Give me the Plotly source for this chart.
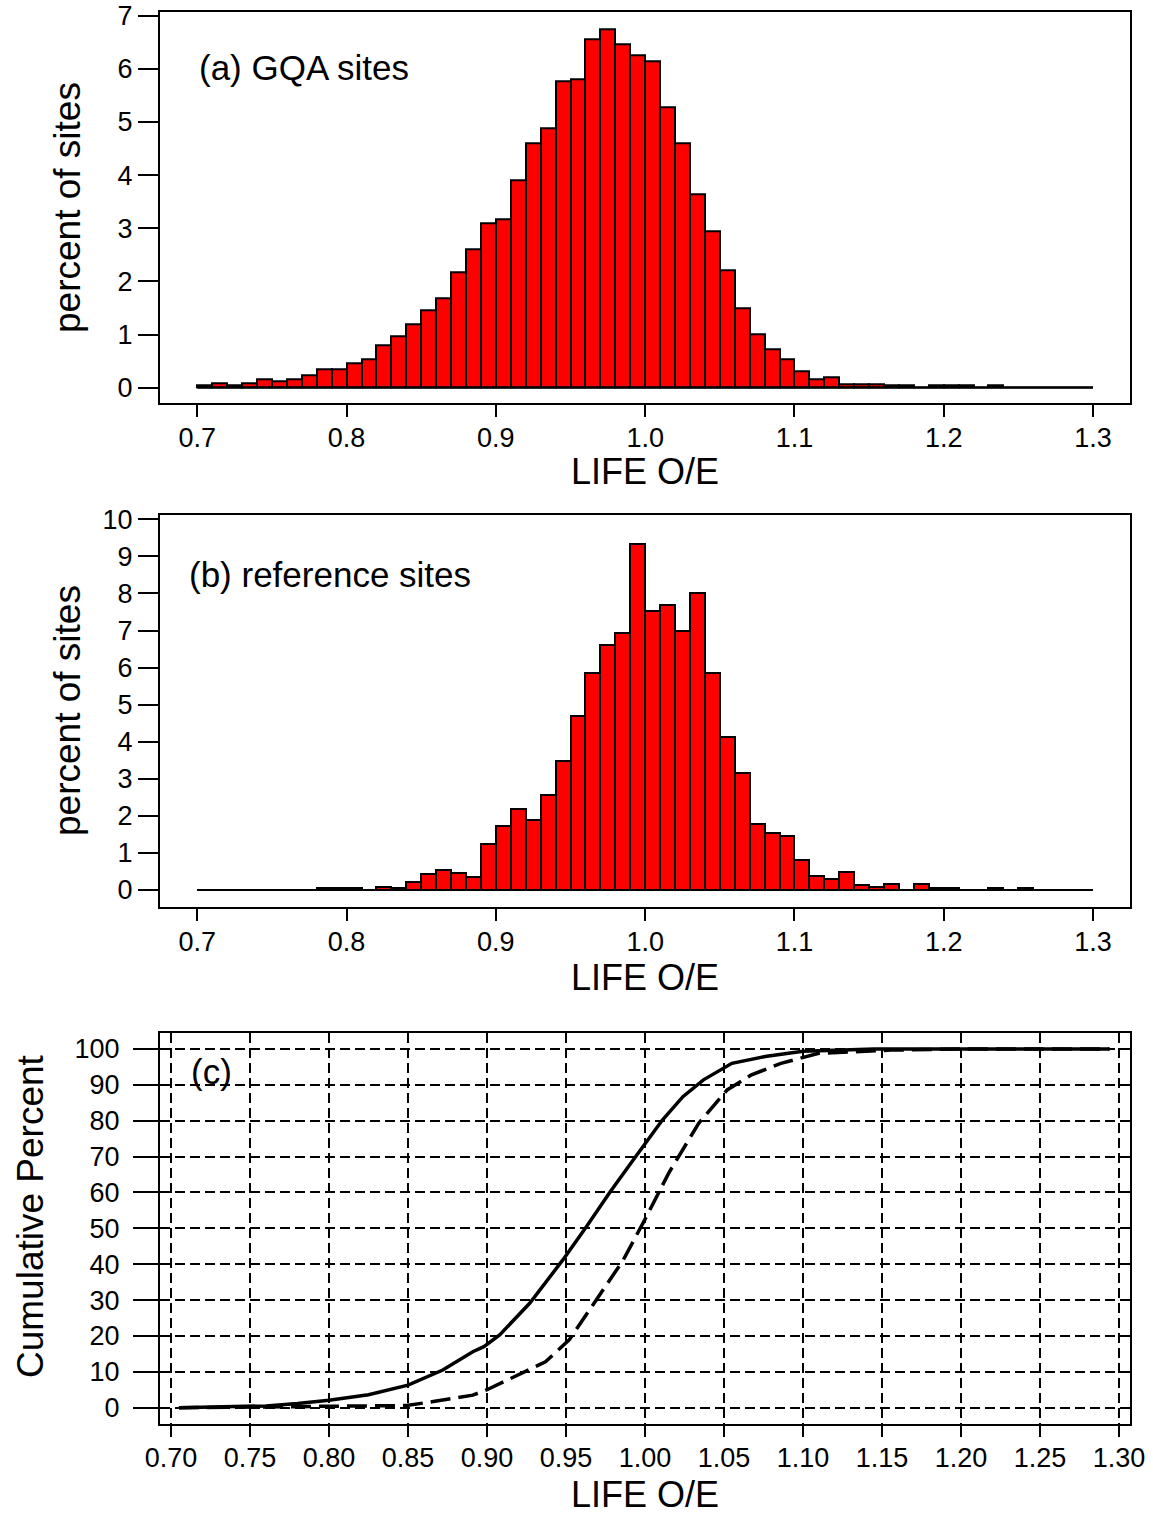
import plotly.graph_objects as go

# ---- data -------------------------------------------------------------
# left edges of the 0.01-wide LIFE O/E classes, 0.70 .. 1.29
bin_left = [0.70, 0.71, 0.72, 0.73, 0.74, 0.75, 0.76, 0.77, 0.78, 0.79,
            0.80, 0.81, 0.82, 0.83, 0.84, 0.85, 0.86, 0.87, 0.88, 0.89,
            0.90, 0.91, 0.92, 0.93, 0.94, 0.95, 0.96, 0.97, 0.98, 0.99,
            1.00, 1.01, 1.02, 1.03, 1.04, 1.05, 1.06, 1.07, 1.08, 1.09,
            1.10, 1.11, 1.12, 1.13, 1.14, 1.15, 1.16, 1.17, 1.18, 1.19,
            1.20, 1.21, 1.22, 1.23, 1.24, 1.25, 1.26, 1.27, 1.28, 1.29]
bin_width = 0.01

# (a) percent of GQA sites per class
gqa_pct = [0.05, 0.08, 0.05, 0.08, 0.16, 0.125, 0.16, 0.23, 0.345, 0.345,
           0.46, 0.54, 0.80, 0.96, 1.19, 1.455, 1.68, 2.18, 2.60, 3.09,
           3.17, 3.90, 4.59, 4.89, 5.77, 5.80, 6.56, 6.75, 6.46, 6.26,
           6.15, 5.27, 4.59, 3.63, 2.95, 2.21, 1.49, 1.00, 0.73, 0.54,
           0.31, 0.15, 0.19, 0.07, 0.07, 0.07, 0.04, 0.04, 0.0, 0.045,
           0.045, 0.045, 0.0, 0.045, 0.0, 0.0, 0.0, 0.0, 0.0, 0.0]

# (b) percent of reference sites per class
ref_pct = [0.0, 0.0, 0.0, 0.0, 0.0, 0.0, 0.0, 0.0, 0.05, 0.05,
           0.05, 0.0, 0.09, 0.045, 0.21, 0.42, 0.54, 0.47, 0.36, 1.24,
           1.73, 2.18, 1.89, 2.56, 3.48, 4.69, 5.85, 6.61, 6.92, 9.33,
           7.52, 7.69, 6.99, 8.02, 5.85, 4.14, 3.15, 1.78, 1.53, 1.47,
           0.81, 0.38, 0.30, 0.49, 0.135, 0.09, 0.15, 0.0, 0.15, 0.05,
           0.05, 0.0, 0.0, 0.05, 0.0, 0.05, 0.0, 0.0, 0.0, 0.0]

# (c) cumulative distributions
gqa_cum_x = [0.705, 0.73, 0.76, 0.78, 0.80, 0.825, 0.85, 0.872, 0.891, 0.898,
             0.908, 0.927, 0.948, 0.963, 0.978, 0.99, 1.00, 1.011, 1.024, 1.037,
             1.055, 1.076, 1.10, 1.145, 1.20, 1.294]
gqa_cum_y = [0.0, 0.3, 0.5, 1.2, 2.1, 3.6, 6.3, 10.5, 15.6, 17.0,
             20.3, 29.1, 41.2, 50.5, 60.2, 67.5, 73.5, 80.2, 86.7, 91.4,
             96.0, 97.9, 99.4, 100.0, 100.0, 100.0]

ref_cum_x = [0.705, 0.75, 0.80, 0.849, 0.866, 0.891, 0.90, 0.937, 0.952, 0.969,
             0.98, 0.986, 1.00, 1.015, 1.034, 1.052, 1.067, 1.086, 1.110, 1.156,
             1.20, 1.294]
ref_cum_y = [0.0, 0.2, 0.3, 0.6, 1.7, 3.5, 5.0, 12.8, 18.9, 30.0,
             37.5, 41.0, 52.5, 65.4, 79.3, 88.6, 92.7, 96.0, 98.8, 99.7,
             100.0, 100.0]

hist_ticks = [0.7, 0.8, 0.9, 1.0, 1.1, 1.2, 1.3]
hist_tick_text = ["0.7", "0.8", "0.9", "1.0", "1.1", "1.2", "1.3"]
cum_ticks = [0.70, 0.75, 0.80, 0.85, 0.90, 0.95, 1.00, 1.05, 1.10, 1.15, 1.20, 1.25, 1.30]
cum_tick_text = ["0.70", "0.75", "0.80", "0.85", "0.90", "0.95", "1.00",
                 "1.05", "1.10", "1.15", "1.20", "1.25", "1.30"]

# ---- figure ------------------------------------------------------------
W, H = 1153, 1517
FONT = "Liberation Sans, Arial, sans-serif"
TICK_SIZE = 27
TITLE_SIZE = 36

bin_mid = [round(b + bin_width / 2, 3) for b in bin_left]

fig = go.Figure()

for pct, xa, ya in ((gqa_pct, "x", "y"), (ref_pct, "x2", "y2")):
    fig.add_trace(go.Bar(
        x=bin_mid, y=pct, width=bin_width,
        marker=dict(color="#FF0000", line=dict(color="black", width=2)),
        xaxis=xa, yaxis=ya, showlegend=False, hoverinfo="x+y",
    ))

fig.add_trace(go.Scatter(
    x=gqa_cum_x, y=gqa_cum_y, mode="lines", name="GQA sites",
    line=dict(color="black", width=3.5), xaxis="x3", yaxis="y3", showlegend=False,
))
fig.add_trace(go.Scatter(
    x=ref_cum_x, y=ref_cum_y, mode="lines", name="reference sites",
    line=dict(color="black", width=3.5, dash="20px,8px"),
    xaxis="x3", yaxis="y3", showlegend=False,
))

# baseline along the class range of each histogram
x_lo, x_hi = bin_left[0], bin_left[-1] + bin_width
for xr, yr in (("x", "y"), ("x2", "y2")):
    fig.add_shape(type="line", xref=xr, yref=yr, x0=x_lo, x1=x_hi, y0=0, y1=0,
                  line=dict(color="black", width=2), layer="above")


def py(px):
    """pixel row -> paper coordinate"""
    return 1 - px / H


x_dom = [160 / W, 1130 / W]

common_x = dict(
    domain=x_dom, showline=True, mirror=True, linecolor="black", linewidth=2,
    ticks="outside", ticklen=12, tickwidth=2, tickcolor="black",
    zeroline=False, showgrid=False, automargin=False,
    tickfont=dict(family=FONT, size=TICK_SIZE, color="black"),
)
common_y = dict(
    showline=True, mirror=True, linecolor="black", linewidth=2,
    ticks="outside", ticklen=20, tickwidth=2, tickcolor="black",
    zeroline=False, showgrid=False, automargin=False,
    tickfont=dict(family=FONT, size=TICK_SIZE, color="black"),
)

fig.update_layout(
    width=W, height=H,
    margin=dict(l=0, r=0, t=0, b=0, pad=0, autoexpand=False),
    paper_bgcolor="white", plot_bgcolor="white",
    font=dict(family=FONT, color="black"),
    showlegend=False,
    bargap=0,
    xaxis=dict(common_x, anchor="y", range=[0.675, 1.3248],
               tickvals=hist_ticks, ticktext=hist_tick_text, ticklabelstandoff=-3),
    yaxis=dict(common_y, anchor="x", domain=[py(403.3), py(12.3)],
               range=[-0.294, 7.064], tickvals=list(range(0, 8))),
    xaxis2=dict(common_x, anchor="y2", range=[0.675, 1.3248],
                tickvals=hist_ticks, ticktext=hist_tick_text, ticklabelstandoff=-2),
    yaxis2=dict(common_y, anchor="x2", domain=[py(906.7), py(515)],
                range=[-0.45, 10.116], tickvals=list(range(0, 11))),
    xaxis3=dict(common_x, anchor="y3", range=[0.693, 1.307],
                tickvals=cum_ticks, ticktext=cum_tick_text, ticklen=11,
                ticklabelstandoff=-3,
                showgrid=True, gridcolor="black", gridwidth=1.5, griddash="10px,5px"),
    yaxis3=dict(common_y, anchor="x3", domain=[py(1424.3), py(1033)],
                range=[-4.63, 104.46], tickvals=list(range(0, 101, 10)), ticklen=25,
                ticklabelstandoff=8,
                showgrid=True, gridcolor="black", gridwidth=1.5, griddash="10px,5px"),
)

ann = []
# panel labels
ann.append(dict(text="(a) GQA sites", x=0.7, y=6.02, xref="x", yref="y",
                xanchor="left", yanchor="middle", showarrow=False,
                font=dict(family=FONT, size=35, color="black")))
ann.append(dict(text="(b) reference sites", x=0.693, y=8.52, xref="x2", yref="y2",
                xanchor="left", yanchor="middle", showarrow=False,
                font=dict(family=FONT, size=35, color="black")))
ann.append(dict(text="(c)", x=0.7114, y=93.6, xref="x3", yref="y3",
                xanchor="left", yanchor="middle", showarrow=False,
                font=dict(family=FONT, size=35, color="black")))
# axis titles
x_mid = (x_dom[0] + x_dom[1]) / 2
for yc in (472, 977, 1494):
    ann.append(dict(text="LIFE O/E", x=x_mid, y=py(yc), xref="paper", yref="paper",
                    xanchor="center", yanchor="middle", showarrow=False,
                    font=dict(family=FONT, size=TITLE_SIZE, color="black")))
for xc, yc, label in ((67, 208, "percent of sites"), (67, 711, "percent of sites"),
                      (30, 1216, "Cumulative Percent")):
    ann.append(dict(text=label, x=xc / W, y=py(yc), xref="paper", yref="paper",
                    xanchor="center", yanchor="middle", textangle=-90, showarrow=False,
                    font=dict(family=FONT, size=37, color="black")))
fig.update_layout(annotations=ann)

fig.write_html("out.html")
